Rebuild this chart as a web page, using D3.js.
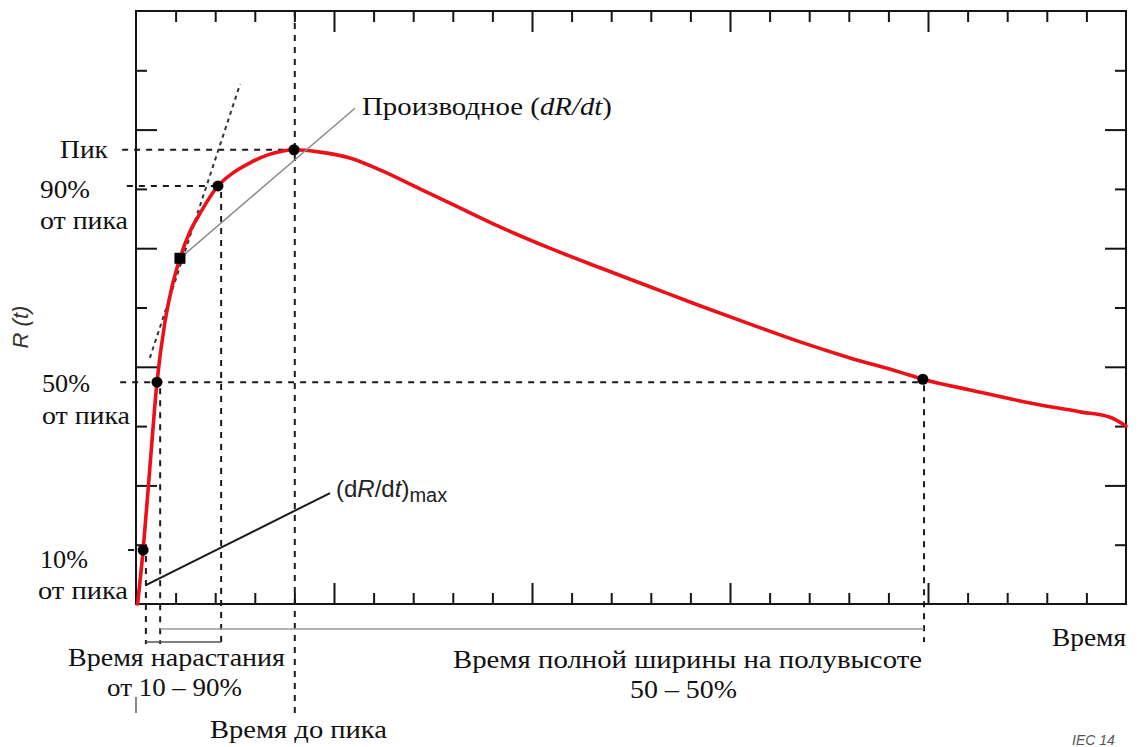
<!DOCTYPE html>
<html>
<head>
<meta charset="utf-8">
<script src="https://cdn.jsdelivr.net/npm/d3@7"></script>
<style>
  html, body { margin: 0; padding: 0; background: #fff; }
  svg { display: block; }
</style>
</head>
<body>
<svg id="chart" width="1138" height="747"></svg>
<script>
// Response curve R(t); time and amplitude expressed in axis tick units
const timeValues = [0.04, 0.18, 0.35, 0.53, 0.73, 0.91, 1.11, 1.35, 1.62, 2.07, 2.45, 2.88, 3.31, 3.71, 3.99,
  4.65, 5.40, 6.16, 7.17, 8.18, 9.19, 10.45, 11.72, 12.98, 14.24, 15.51, 16.77, 18.03, 19.29, 19.87,
  21.06, 22.58, 23.84, 24.60, 25.00];
const responseValues = [0.00, 0.91, 2.30, 3.74, 4.75, 5.35, 5.83, 6.26, 6.59, 7.05, 7.27, 7.44, 7.57, 7.64, 7.66,
  7.62, 7.52, 7.32, 7.00, 6.68, 6.36, 6.00, 5.67, 5.35, 5.03, 4.72, 4.42, 4.15, 3.91, 3.79,
  3.61, 3.39, 3.24, 3.15, 3.00];

// Characteristic points on the curve
const pointNames = ["10%", "50%", "90%", "peak", "50% fall"];
const pointTimes = [0.18, 0.53, 2.07, 3.99, 19.87];
const pointValues = [0.91, 3.74, 7.05, 7.66, 3.79];

// Point where the derivative is read
const derivPoint = [1.11, 5.83];

// Times of the vertical guides dropped to the time axis
const guideTimes = [0.25, 0.61, 2.15, 4.01, 19.90];

// Tangent at the steepest rise (start and end in data units)
const tangentT = [0.35, 2.63];
const tangentR = [4.15, 8.77];

// Leader lines to the annotations
const derivLeaderT = [1.11, 5.53];
const derivLeaderR = [5.83, 8.36];
const maxLeaderT = [0.25, 4.90];
const maxLeaderR = [0.32, 1.87];

// Axis ticks
const xTicks = d3.range(1, 25);
const xMajor = [5, 10, 15, 20];
const yTicks = d3.range(1, 10);
const yMajor = [2, 4, 6, 8];

const SERIF = "'Liberation Serif', 'Times New Roman', 'DejaVu Serif', serif";
const SANS = "'Liberation Sans', Arial, sans-serif";

const svg = d3.select("#chart");
const plot = { left: 136, right: 1126, top: 11, bottom: 604 };

const x = d3.scaleLinear().domain([0, 25]).range([plot.left, plot.right]);
const y = d3.scaleLinear().domain([0, 10]).range([plot.bottom, plot.top]);

const ink = "#151515";

// frame
svg.append("rect")
  .attr("x", plot.left).attr("y", plot.top)
  .attr("width", plot.right - plot.left).attr("height", plot.bottom - plot.top)
  .attr("fill", "none").attr("stroke", ink).attr("stroke-width", 2);

// inward ticks on all four sides
function styleTicks(g, major, attr, sign) {
  g.select(".domain").remove();
  g.selectAll(".tick line")
    .attr("stroke", ink).attr("stroke-width", 2)
    .attr(attr, d => sign * (major.includes(d) ? 21 : 11));
}
svg.append("g").attr("transform", `translate(0,${plot.bottom})`)
  .call(d3.axisBottom(x).tickValues(xTicks).tickFormat(""))
  .call(g => styleTicks(g, xMajor, "y2", -1));
svg.append("g").attr("transform", `translate(0,${plot.top})`)
  .call(d3.axisTop(x).tickValues(xTicks).tickFormat(""))
  .call(g => styleTicks(g, xMajor, "y2", 1));
svg.append("g").attr("transform", `translate(${plot.left},0)`)
  .call(d3.axisLeft(y).tickValues(yTicks).tickFormat(""))
  .call(g => styleTicks(g, yMajor, "x2", 1));
svg.append("g").attr("transform", `translate(${plot.right},0)`)
  .call(d3.axisRight(y).tickValues(yTicks).tickFormat(""))
  .call(g => styleTicks(g, yMajor, "x2", -1));

const guides = svg.append("g")
  .attr("stroke", "#1a1a1a").attr("stroke-width", 2).attr("stroke-dasharray", "6,6").attr("fill", "none");

const pt = Object.fromEntries(pointNames.map((n, i) => [n, { t: pointTimes[i], r: pointValues[i] }]));

// horizontal guides from the labels to the points
const hGuides = [
  { r: pt["peak"].r, from: -0.35, to: pt["peak"].t },
  { r: pt["90%"].r, from: -0.23, to: pt["90%"].t },
  { r: pt["50%"].r, from: -0.40, to: pt["50% fall"].t },
  { r: pt["10%"].r, from: -0.20, to: pt["10%"].t }
];
guides.selectAll("line.h").data(hGuides).join("line").attr("class", "h")
  .attr("x1", d => x(d.from)).attr("x2", d => x(d.to))
  .attr("y1", d => y(d.r)).attr("y2", d => y(d.r));

// vertical guides down below the time axis
const vGuides = [
  { t: guideTimes[0], top: y(pt["10%"].r) + 6, bottom: plot.bottom + 40 },
  { t: guideTimes[1], top: y(pt["50%"].r) + 6, bottom: plot.bottom + 40 },
  { t: guideTimes[2], top: y(pt["90%"].r) + 6, bottom: plot.bottom + 40 },
  { t: guideTimes[3], top: plot.top, bottom: plot.bottom + 113 },
  { t: guideTimes[4], top: y(pt["50% fall"].r) + 6, bottom: plot.bottom + 38 }
];
guides.selectAll("line.v").data(vGuides).join("line").attr("class", "v")
  .attr("x1", d => x(d.t)).attr("x2", d => x(d.t))
  .attr("y1", d => d.top).attr("y2", d => d.bottom);

// tangent at maximum slope
svg.append("line")
  .attr("x1", x(tangentT[0])).attr("y1", y(tangentR[0]))
  .attr("x2", x(tangentT[1])).attr("y2", y(tangentR[1]))
  .attr("stroke", "#333").attr("stroke-width", 2).attr("stroke-dasharray", "4,4");

// interval brackets under the axis
svg.append("line")
  .attr("x1", x(guideTimes[1])).attr("x2", x(guideTimes[4]))
  .attr("y1", plot.bottom + 25).attr("y2", plot.bottom + 25)
  .attr("stroke", "#9a9a9a").attr("stroke-width", 1.6);
svg.append("line")
  .attr("x1", x(guideTimes[0])).attr("x2", x(guideTimes[2]))
  .attr("y1", plot.bottom + 38).attr("y2", plot.bottom + 38)
  .attr("stroke", "#555").attr("stroke-width", 1.4);
svg.append("line")
  .attr("x1", plot.left).attr("x2", plot.left)
  .attr("y1", plot.bottom + 93).attr("y2", plot.bottom + 109)
  .attr("stroke", "#555").attr("stroke-width", 1.4);

// response curve
const line = d3.line().x(d => x(d[0])).y(d => y(d[1])).curve(d3.curveMonotoneX);
svg.append("path")
  .datum(timeValues.map((t, i) => [t, responseValues[i]]))
  .attr("d", line)
  .attr("fill", "none").attr("stroke", "#ec1119").attr("stroke-width", 3.6)
  .attr("stroke-linejoin", "round").attr("stroke-linecap", "round");

// leader lines
svg.append("line")
  .attr("x1", x(derivLeaderT[0])).attr("y1", y(derivLeaderR[0]))
  .attr("x2", x(derivLeaderT[1])).attr("y2", y(derivLeaderR[1]))
  .attr("stroke", "#8a8a8a").attr("stroke-width", 1.5);
svg.append("line")
  .attr("x1", x(maxLeaderT[0])).attr("y1", y(maxLeaderR[0]))
  .attr("x2", x(maxLeaderT[1])).attr("y2", y(maxLeaderR[1]))
  .attr("stroke", "#1a1a1a").attr("stroke-width", 2);

// markers
svg.append("g").selectAll("circle").data(pointNames).join("circle")
  .attr("cx", n => x(pt[n].t)).attr("cy", n => y(pt[n].r)).attr("r", 5.5).attr("fill", "#000");
svg.append("rect")
  .attr("x", x(derivPoint[0]) - 5.5).attr("y", y(derivPoint[1]) - 5.5)
  .attr("width", 11).attr("height", 11).attr("fill", "#000");

// text labels
const fs = 26;
function label(txt, px, py, anchor, width) {
  const t = svg.append("text")
    .attr("font-family", SERIF).attr("fill", "#111")
    .attr("x", px).attr("y", py).attr("text-anchor", anchor || "start")
    .attr("font-size", fs).text(txt);
  if (width) t.attr("textLength", width).attr("lengthAdjust", "spacingAndGlyphs");
  return t;
}
label("Пик", 60, 158, "start", 48);
label("90%", 40, 198, "start", 50);
label("от пика", 40, 229, "start", 88);
label("50%", 42, 392, "start", 48);
label("от пика", 42, 424, "start", 88);
label("10%", 40, 568, "start", 48);
label("от пика", 38, 599, "start", 90);

label("Время нарастания", 68, 666, "start", 217);
label("от 10 – 90%", 107, 696, "start", 135);
label("Время до пика", 210, 738, "start", 177);
label("Время полной ширины на полувысоте", 453, 668, "start", 469);
label("50 – 50%", 630, 698, "start", 107);
label("Время", 1052, 646, "start", 74);

// derivative annotation
const deriv = svg.append("text").attr("font-family", SERIF).attr("fill", "#111")
  .attr("x", 362).attr("y", 115).attr("font-size", fs)
  .attr("textLength", 250).attr("lengthAdjust", "spacingAndGlyphs");
deriv.append("tspan").text("Производное (");
deriv.append("tspan").attr("font-style", "italic").text("dR/dt");
deriv.append("tspan").text(")");

// maximum slope annotation
const dmax = svg.append("text").attr("font-family", SANS).attr("fill", "#222")
  .attr("x", 336).attr("y", 497).attr("font-size", 24);
dmax.append("tspan").text("(d");
dmax.append("tspan").attr("font-style", "italic").text("R");
dmax.append("tspan").text("/d");
dmax.append("tspan").attr("font-style", "italic").text("t");
dmax.append("tspan").text(")");
dmax.append("tspan").attr("font-size", 20).attr("dy", 5).text("max");

// vertical axis title
svg.append("text").attr("font-family", SANS).attr("fill", "#333")
  .attr("transform", "translate(28,327) rotate(-90)")
  .attr("text-anchor", "middle").attr("font-size", 22).attr("font-style", "italic")
  .text("R (t)");

// figure reference in the lower corner
svg.append("text").attr("font-family", SANS).attr("fill", "#555")
  .attr("x", 1072).attr("y", 745).attr("font-size", 14).attr("font-style", "italic")
  .text("IEC  14");
</script>
</body>
</html>
